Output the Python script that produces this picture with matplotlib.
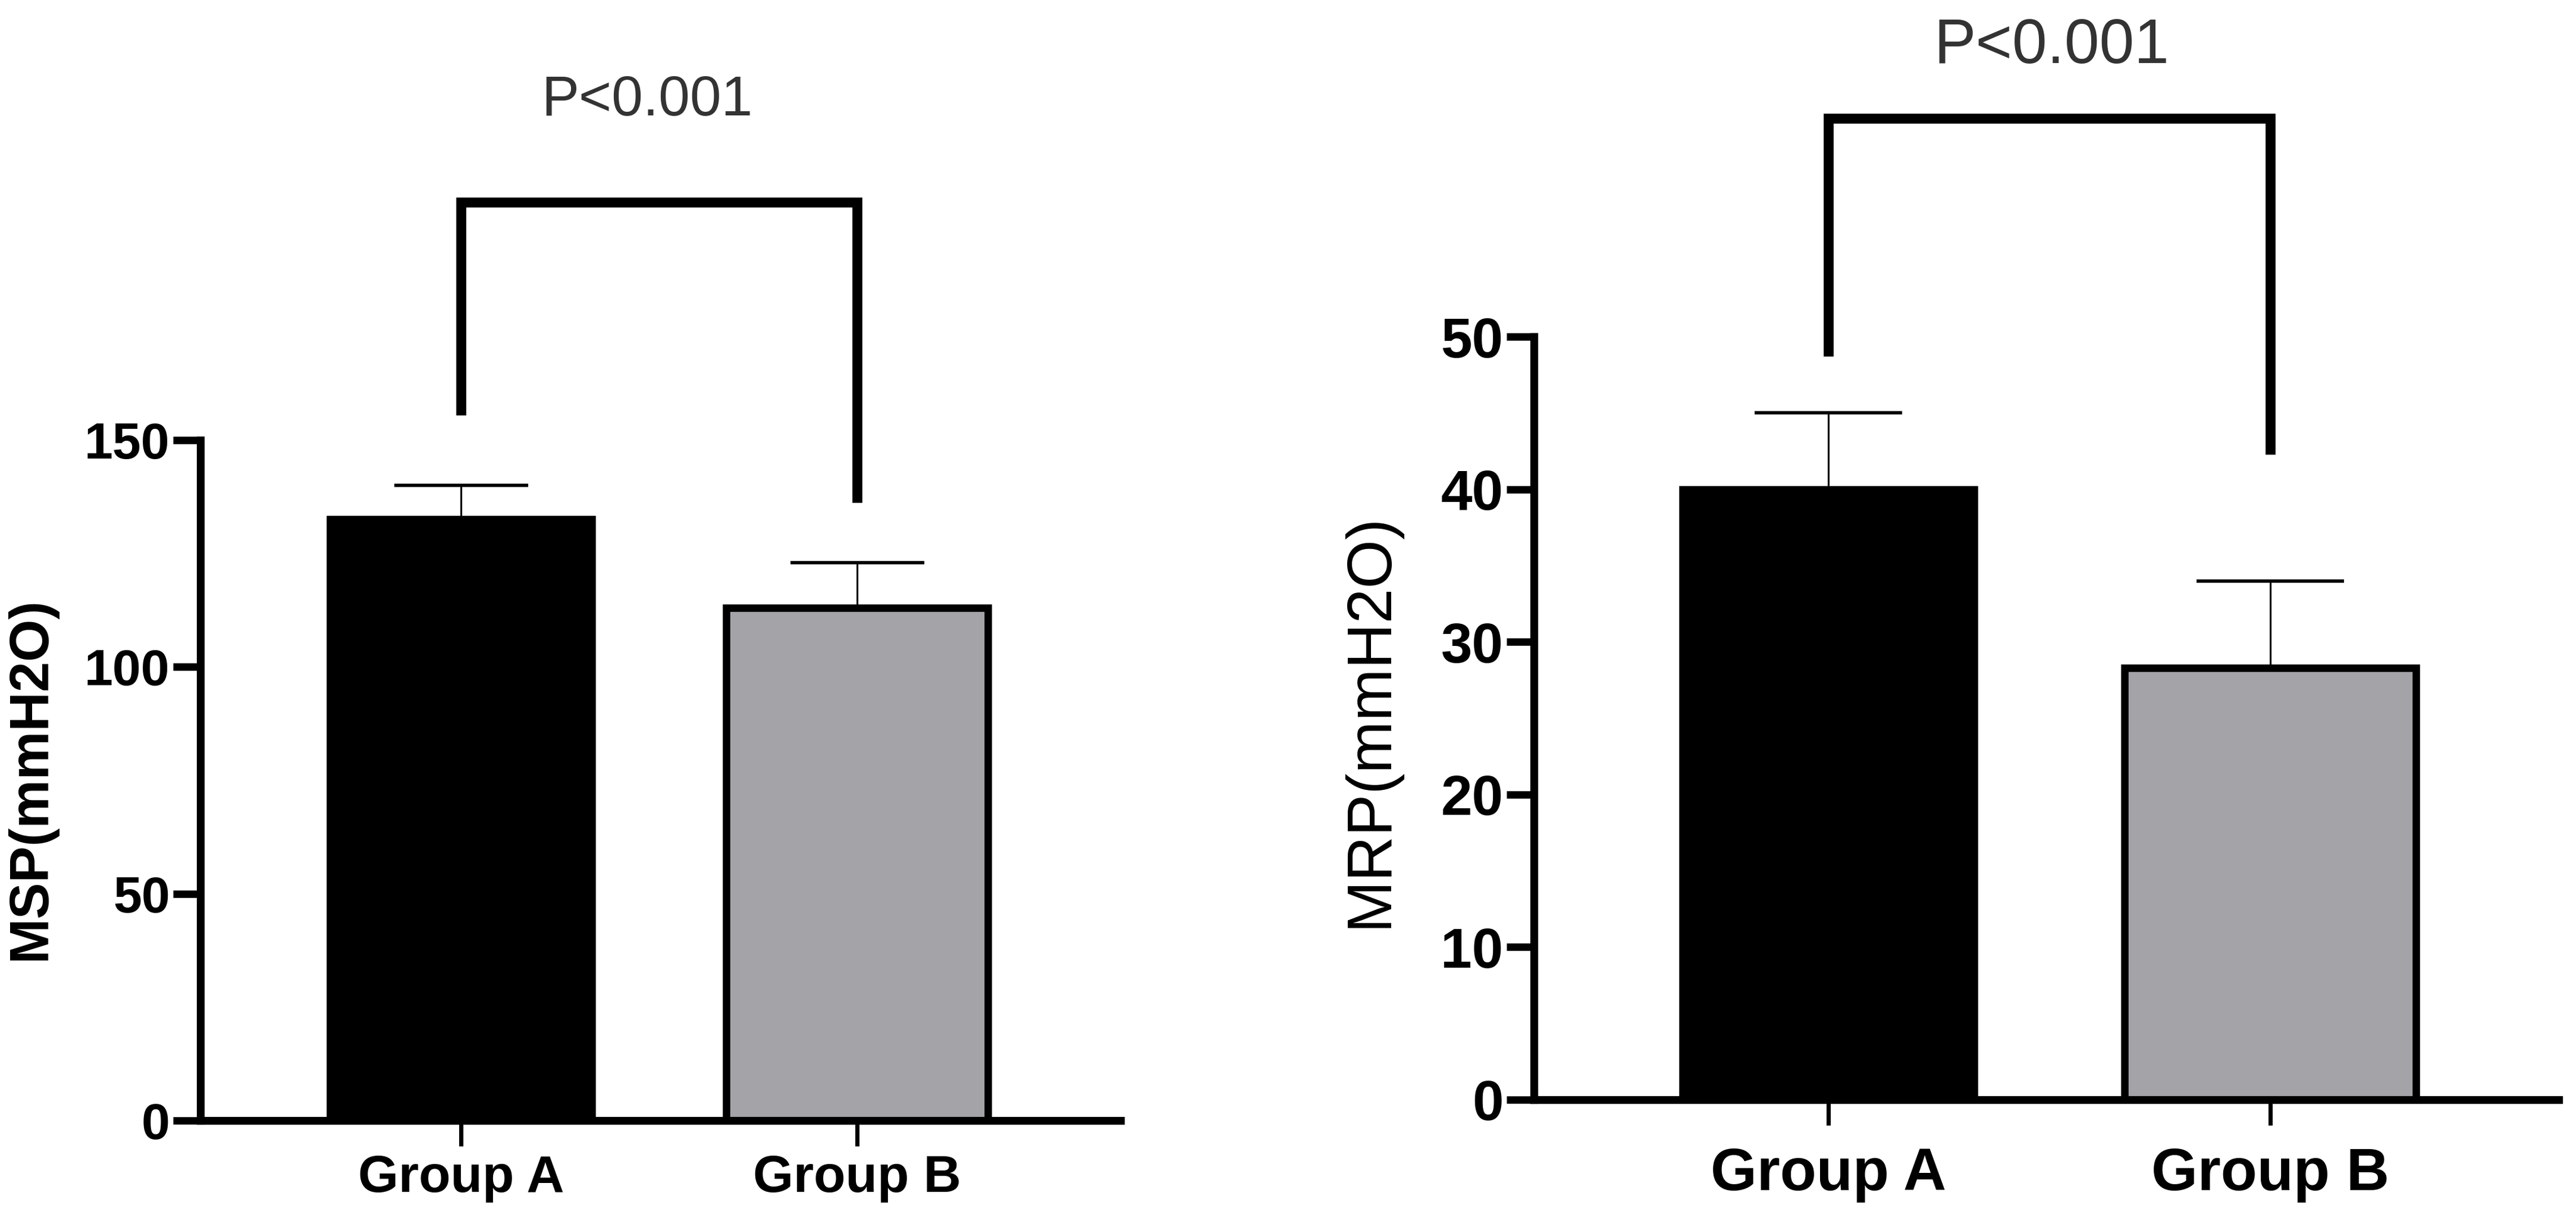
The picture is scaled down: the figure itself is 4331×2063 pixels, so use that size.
import matplotlib
matplotlib.use("Agg")
import matplotlib.pyplot as plt

plt.rcParams['font.family'] = ['Liberation Sans', 'DejaVu Sans']

groups = ["Group A", "Group B"]

msp_mean = [132.5, 113.0]
msp_err = [7.5, 10.0]
msp_ticks = [0, 50, 100, 150]
msp_bracket = [155.5, 202.4, 136.2]   # left leg end, top, right leg end

mrp_mean = [40.0, 28.3]
mrp_err = [5.0, 5.7]
mrp_ticks = [0, 10, 20, 30, 40, 50]
mrp_bracket = [48.7, 64.3, 42.3]

p_text = "P<0.001"

bar_colors = ["#000000", "#a3a3a8"]

W, H = 4331, 2063
fig = plt.figure(figsize=(W / 100, H / 100), dpi=100)


def panel(rect, means, errs, ticks, ylim, bracket, text_xy, ylabel, ylabel_xy,
          ylabel_weight, ylabel_size, tick_size, group_size, group_pad,
          p_size, capsize):
    ax = fig.add_axes(rect)
    x = list(range(len(groups)))
    ax.bar(x, means, width=0.66, color=bar_colors, edgecolor="black",
           linewidth=9, zorder=2)
    ax.errorbar(x, means, yerr=[[0] * len(errs), errs], fmt="none",
                ecolor="black", elinewidth=2.2, capsize=capsize,
                capthick=4, zorder=1)
    ax.set_ylim(*ylim)
    ax.set_yticks(ticks)
    ax.set_xticks(x)
    ax.set_xticklabels(groups, fontsize=group_size, fontweight="bold")
    ax.tick_params(axis="y", length=33, width=9, labelsize=tick_size, pad=4)
    ax.tick_params(axis="x", length=31, width=5, pad=group_pad)
    for lab in ax.get_yticklabels():
        lab.set_fontweight("bold")
    for s in ["top", "right"]:
        ax.spines[s].set_visible(False)
    for s in ["left", "bottom"]:
        ax.spines[s].set_linewidth(9.5)
    # significance bracket
    ax.plot([0, 0, 1, 1], [bracket[0], bracket[1], bracket[1], bracket[2]],
            color="black", lw=12, clip_on=False, solid_joinstyle="miter",
            solid_capstyle="butt")
    ax.text(text_xy[0], text_xy[1], p_text, ha="center", va="center",
            fontsize=p_size, color="#333333", clip_on=False)
    fig.text(ylabel_xy[0] / W, 1 - ylabel_xy[1] / H, ylabel, rotation=90,
             ha="center", va="center", fontsize=ylabel_size,
             fontweight=ylabel_weight)
    return ax


ax1 = panel([337 / W, (H - 1884) / H, (1884 - 337) / W, (1884 - 740) / H],
            msp_mean, msp_err, msp_ticks, (0, 150), msp_bracket,
            (0.47, 224.8), "MSP(mmH2O)", (52, 1309), "bold", 66, 62, 63, 10,
            68, 81)
ax1.set_xlim(-0.658, 1.665)

ax2 = panel([2579 / W, (H - 1849) / H, (4302 - 2579) / W, (1849 - 566) / H],
            mrp_mean, mrp_err, mrp_ticks, (0, 50), mrp_bracket,
            (0.505, 69.0), "MRP(mmH2O)", (2304, 1211), "normal", 76, 68, 72, 26,
            76, 89)
ax2.set_xlim(-0.666, 1.653)

fig.savefig("out.png", dpi=100)
